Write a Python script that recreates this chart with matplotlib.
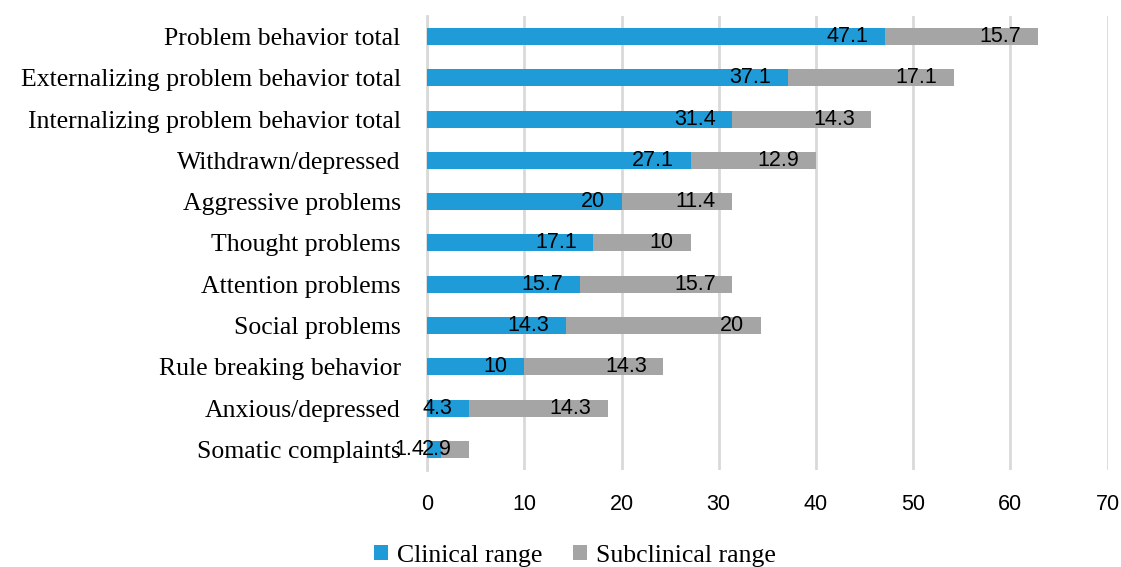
import matplotlib
matplotlib.use("Agg")
import matplotlib.pyplot as plt

categories = ["Problem behavior total",
              "Externalizing problem behavior total",
              "Internalizing problem behavior total",
              "Withdrawn/depressed",
              "Aggressive problems",
              "Thought problems",
              "Attention problems",
              "Social problems",
              "Rule breaking behavior",
              "Anxious/depressed",
              "Somatic complaints"]
clinical = [47.1, 37.1, 31.4, 27.1, 20, 17.1, 15.7, 14.3, 10, 4.3, 1.4]
subclinical = [15.7, 17.1, 14.3, 12.9, 11.4, 10, 15.7, 20, 14.3, 14.3, 2.9]
series_names = ["Clinical range", "Subclinical range"]

blue = "#1F9BD7"
gray = "#A5A5A5"
serif = "Liberation Serif"
sans = "Liberation Sans"

fig = plt.figure(figsize=(11.21, 5.67), dpi=100)
ax = fig.add_axes([0.381, 0.171, 0.607, 0.801])

y = list(range(len(categories)))[::-1]
b1 = ax.barh(y, clinical, height=0.41, color=blue, label=series_names[0], zorder=3)
b2 = ax.barh(y, subclinical, left=clinical, height=0.41, color=gray,
             label=series_names[1], zorder=3)

# labels sit inside the end of each segment
for yi, c, s in zip(y, clinical, subclinical):
    for val, end in ((c, c), (s, c + s)):
        ax.annotate(f"{val:g}", (end, yi), xytext=(-12, 0), textcoords="offset points",
                    ha="right", va="center", fontsize=15.5, family=sans, color="black",
                    zorder=4)

ax.set_xlim(0, 70)
ax.set_ylim(-0.5, len(categories) - 0.5)
ax.set_xticks(range(0, 71, 10))
ax.set_yticks(y)
ax.set_yticklabels(categories, family=serif, fontsize=18.5)
for t in ax.get_xticklabels():
    t.set_family(sans)
    t.set_fontsize(15.5)
ax.tick_params(axis="x", length=0, pad=17)
ax.tick_params(axis="y", length=0, pad=19)
ax.grid(axis="x", color="#D9D9D9", linewidth=2, zorder=0)
for side in ("top", "right", "bottom"):
    ax.spines[side].set_visible(False)
ax.spines["left"].set_color("#D9D9D9")
ax.spines["left"].set_linewidth(2)

fig.legend(handles=[b1, b2], loc="center", bbox_to_anchor=(0.513, 0.02), ncol=2,
           frameon=False, prop={"family": serif, "size": 18.5}, handlelength=0.55,
           handleheight=0.55, handletextpad=0.35, columnspacing=1.2)

fig.savefig("out.png", dpi=100)
